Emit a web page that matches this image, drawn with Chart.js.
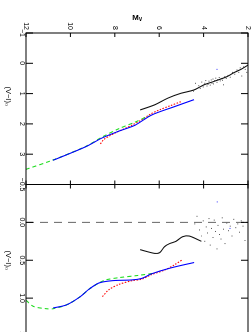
<!DOCTYPE html>
<html>
<head>
<meta charset="utf-8">
<script src="https://cdn.jsdelivr.net/npm/chart.js@4.4.1/dist/chart.umd.min.js"></script>
<style>
  html, body { margin: 0; padding: 0; width: 252px; height: 332px; overflow: hidden; background: #fff; }
  /* the chart is drawn upright and then turned a quarter turn clockwise */
  #wrap { position: absolute; left: 0; top: 0; width: 340px; height: 252px;
          transform-origin: 0 0; transform: translate(252px, 0) rotate(90deg); }
</style>
</head>
<body>
<div id="wrap"><canvas id="cmd" width="340" height="252"></canvas></div>
<script>
// Left panel: (V-I)0 against Mv
const blackMv = [6.86, 6.20, 5.61, 5.02, 4.43, 3.98, 3.54, 2.95, 2.66, 2.29, 1.98];
const blackVI = [1.54, 1.37, 1.15, 0.99, 0.88, 0.71, 0.60, 0.44, 0.32, 0.19, 0.05];
const blueMv = [10.78, 9.30, 8.56, 7.82, 7.08, 6.35, 5.31, 4.43];
const blueVI = [3.20, 2.75, 2.46, 2.24, 2.04, 1.71, 1.43, 1.20];
const greenMv = [12.0, 10.78, 9.30, 8.56, 7.82, 7.08, 6.64, 6.45];
const greenVI = [3.50, 3.19, 2.74, 2.43, 2.16, 1.94, 1.79, 1.74];
const redMv = [8.65, 8.5, 8.2, 7.9, 7.6, 7.2, 6.8, 6.4, 6.0, 5.5, 5.0];
const redVI = [2.66, 2.52, 2.38, 2.27, 2.17, 2.03, 1.87, 1.68, 1.54, 1.40, 1.26];
const starMv = [4.45, 4.36, 4.22, 4.15, 4.08, 4.02, 3.95, 3.90, 3.85, 3.80, 3.76, 3.70, 3.66, 3.62, 3.58, 3.55,
  3.50, 3.45, 3.40, 3.36, 3.30, 3.25, 3.20, 3.15, 3.10, 3.05, 2.98, 2.90, 2.80, 2.70, 2.60, 2.50, 2.42, 2.35,
  2.28, 2.20, 2.12, 2.06];
const starVI = [0.92, 0.66, 0.74, 0.83, 0.62, 0.78, 0.66, 0.57, 0.75, 0.70, 0.59, 0.72, 0.55, 0.66, 0.52, 0.68,
  0.57, 0.49, 0.63, 0.54, 0.47, 0.58, 0.50, 0.56, 0.71, 0.44, 0.50, 0.40, 0.46, 0.30, 0.36, 0.22, 0.30, 0.15,
  0.42, 0.12, 0.20, 0.30];
const blueStarMv = [3.40];
const blueStarVI = [0.20];

// Right panel: residual (V-I)0 against Mv
const blackResMv = [6.86, 6.20, 5.98, 5.76, 5.53, 5.24, 4.95, 4.65, 4.10];
const blackRes = [0.36, 0.41, 0.40, 0.32, 0.28, 0.25, 0.19, 0.18, 0.25];
const blueResMv = [10.78, 10.18, 9.60, 9.15, 8.71, 8.12, 7.23, 6.79, 6.35, 5.46, 4.43];
const blueRes = [1.13, 1.09, 0.99, 0.88, 0.80, 0.77, 0.76, 0.74, 0.68, 0.60, 0.53];
const greenResMv = [12.0, 11.66, 11.07, 10.78, 10.18, 9.60, 9.15, 8.71, 8.41, 7.82, 6.94, 6.20];
const greenRes = [1.03, 1.11, 1.14, 1.14, 1.09, 0.99, 0.88, 0.80, 0.76, 0.73, 0.70, 0.67];
const redResMv = [8.56, 8.27, 7.82, 7.23, 6.79, 6.35, 5.76, 5.31, 4.94];
const redRes = [0.98, 0.89, 0.82, 0.77, 0.75, 0.69, 0.63, 0.56, 0.49];
const starResMv = [4.40, 4.30, 4.18, 4.10, 4.02, 3.95, 3.88, 3.82, 3.76, 3.70, 3.64, 3.58, 3.52, 3.46, 3.40, 3.35,
  3.28, 3.22, 3.16, 3.10, 3.04, 2.96, 2.88, 2.80, 2.72, 2.64, 2.55, 2.46, 2.38, 2.30, 2.22, 2.14, 2.06];
const starRes = [0.02, -0.08, 0.10, 0.18, -0.02, 0.25, 0.06, 0.14, -0.05, 0.30, 0.08, 0.20, -0.03, 0.12, 0.35, 0.04,
  0.16, 0.22, -0.06, 0.09, 0.28, 0.01, 0.11, 0.05, 0.18, -0.04, 0.07, 0.02, 0.13, -0.02, 0.05, 0.24, 0.00];
const blueStarResMv = [3.39, 2.81];
const blueStarRes = [-0.27, 0.08];
const zeroMv = [12, 2];
const zeroRes = [0, 0];

const pts = (xs, ys) => xs.map((x, i) => ({ x: x, y: ys[i] }));
const minus = s => String(s).replace('-', '\u2212');

function curve(xAxisID, xs, ys, color, dash) {
  return {
    xAxisID, data: pts(xs, ys), showLine: true, tension: 0.3,
    borderColor: color, borderWidth: 1.1, borderDash: dash || [], pointRadius: 0
  };
}
function stars(xAxisID, xs, ys, color) {
  return {
    xAxisID, data: pts(xs, ys), showLine: false,
    pointRadius: 0.7, pointStyle: 'rect', backgroundColor: color, borderWidth: 0
  };
}

// Frames round both panels, with the ticks pointing inwards
const frames = {
  id: 'frames',
  afterDatasetsDraw(chart) {
    const { ctx, chartArea: a, scales } = chart;
    const y = scales.y;
    ctx.save();
    ctx.strokeStyle = '#000';
    ctx.lineWidth = 1;
    ['x', 'x2'].forEach(id => {
      const s = scales[id];
      ctx.strokeRect(s.left, a.top, s.right - s.left, a.bottom - a.top);
      ctx.beginPath();
      s.ticks.forEach(t => {
        const px = s.getPixelForValue(t.value);
        ctx.moveTo(px, a.bottom); ctx.lineTo(px, a.bottom - 7);
        ctx.moveTo(px, a.top); ctx.lineTo(px, a.top + 7);
      });
      y.ticks.forEach(t => {
        const py = y.getPixelForValue(t.value);
        ctx.moveTo(s.left, py); ctx.lineTo(s.left + 4, py);
        ctx.moveTo(s.right, py); ctx.lineTo(s.right - 4, py);
      });
      ctx.stroke();
    });
    ctx.restore();
  }
};

const tickFont = { family: 'Liberation Sans', size: 7 };
const titleFont = { family: 'Liberation Sans', size: 7.5 };

function fitX(s) { s.height = 26; s.paddingLeft = 0; s.paddingRight = 0; }

new Chart(document.getElementById('cmd'), {
  type: 'scatter',
  data: {
    datasets: [
      curve('x', blueVI, blueMv, '#0000ff'),
      curve('x', greenVI, greenMv, '#22dd22', [4, 3]),
      curve('x', redVI, redMv, '#ff0000', [1.5, 1.5]),
      curve('x', blackVI, blackMv, '#111111'),
      stars('x', blueStarVI, blueStarMv, '#3333ff'),
      stars('x', starVI, starMv, '#555555'),
      curve('x2', blueRes, blueResMv, '#0000ff'),
      curve('x2', greenRes, greenResMv, '#22dd22', [4, 3]),
      curve('x2', redRes, redResMv, '#ff0000', [1.5, 1.5]),
      curve('x2', blackRes, blackResMv, '#111111'),
      stars('x2', blueStarRes, blueStarResMv, '#3333ff'),
      stars('x2', starRes, starResMv, '#555555'),
      { xAxisID: 'x2', data: pts(zeroRes, zeroMv), showLine: true, borderColor: '#666666',
        borderWidth: 1, borderDash: [8, 6], pointRadius: 0 }
    ]
  },
  options: {
    responsive: false,
    devicePixelRatio: 1,
    animation: false,
    layout: { padding: { top: 1, right: 4, left: 0, bottom: 0 } },
    plugins: { legend: { display: false }, tooltip: { enabled: false } },
    scales: {
      x: {
        type: 'linear', position: 'bottom', stack: 'panels', stackWeight: 1,
        min: -1, max: 4,
        grid: { display: false, drawTicks: false }, border: { display: false },
        ticks: { stepSize: 1, padding: 0, autoSkip: false, maxRotation: 0, color: '#000', font: tickFont,
          callback: v => (v === 4 ? '' : minus(v)) },
        title: { display: true, text: '(V\u2212I)\u2080\u00a0\u00a0\u00a0\u00a0\u00a0\u00a0\u00a0\u00a0\u00a0\u00a0\u00a0\u00a0',
          color: '#000', font: titleFont, padding: { top: 0, bottom: 4 } },
        afterFit: fitX
      },
      x2: {
        type: 'linear', axis: 'x', position: 'bottom', stack: 'panels', stackWeight: 1,
        min: -0.5, max: 1.5,
        grid: { display: false, drawTicks: false }, border: { display: false },
        ticks: { stepSize: 0.5, padding: 0, autoSkip: false, maxRotation: 0, color: '#000', font: tickFont,
          callback: v => minus(v.toFixed(1)) },
        title: { display: true, text: '(V\u2212I)\u2080', color: '#000', font: titleFont,
          padding: { top: 0, bottom: 4 } },
        afterFit: fitX
      },
      y: {
        type: 'linear', position: 'left', min: 2, max: 12, reverse: true,
        grid: { display: false, drawTicks: false }, border: { display: false },
        ticks: { stepSize: 2, padding: 3, color: '#000', font: tickFont },
        title: { display: true, text: 'M\u1d65', color: '#000',
          font: { family: 'Liberation Sans', size: 8, weight: 'bold' }, padding: { top: 13, bottom: 0 } },
        afterFit: s => { s.width = 33; s.paddingTop = 0; s.paddingBottom = 0; }
      }
    }
  },
  plugins: [frames]
});
</script>
</body>
</html>
